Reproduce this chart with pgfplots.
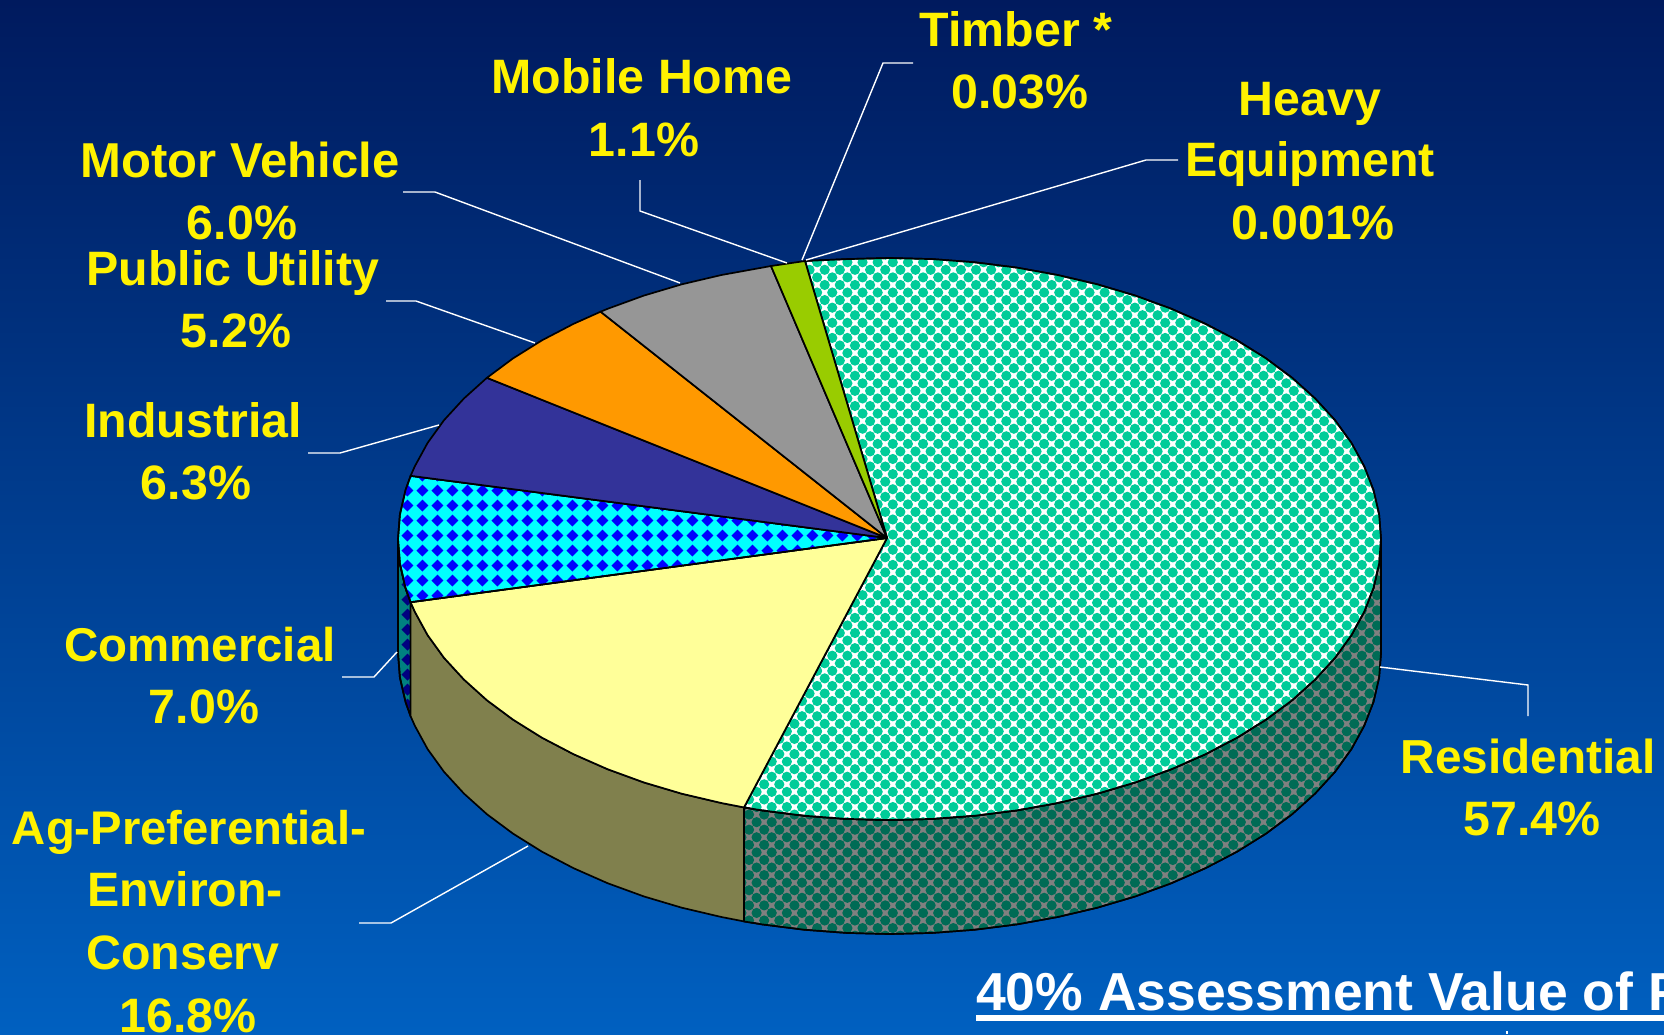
\documentclass[border=0pt]{standalone}
\usepackage{fontspec}
\setmainfont{Liberation Sans}
\usepackage{pgfplots}
\pgfplotsset{compat=1.18}
\usetikzlibrary{patterns,patterns.meta}
\pgfdeclarepatternformonly{diam}{\pgfqpoint{0pt}{0pt}}{\pgfqpoint{15.4pt}{15.4pt}}{\pgfqpoint{15.4pt}{15.4pt}}{%
  \pgfpathmoveto{\pgfqpoint{1.5pt}{7.7pt}}\pgfpathlineto{\pgfqpoint{7.7pt}{13.9pt}}\pgfpathlineto{\pgfqpoint{13.9pt}{7.7pt}}\pgfpathlineto{\pgfqpoint{7.7pt}{1.5pt}}\pgfpathclose
  \pgfusepath{fill}}
\definecolor{bgtop}{HTML}{001A5E}
\definecolor{bgbot}{HTML}{0060C0}
\definecolor{restop}{HTML}{00CC99}
\definecolor{resside}{HTML}{006B55}
\definecolor{agtop}{HTML}{FFFF99}
\definecolor{agside}{HTML}{80804D}
\definecolor{indc}{HTML}{333399}
\definecolor{pubc}{HTML}{FF9900}
\definecolor{motc}{HTML}{969696}
\definecolor{mobc}{HTML}{99CC00}
\definecolor{cyanc}{HTML}{00FFFF}
\definecolor{bluec}{HTML}{0000FF}
\definecolor{tealc}{HTML}{008080}
\definecolor{navyc}{HTML}{000080}
\newcommand{\lab}[4][48.3]{\node[anchor=base,inner sep=0pt,text=yellow,font=\bfseries\fontsize{#1}{56}\selectfont] at (axis cs:#2,#3) {#4};}
\begin{document}
\begin{tikzpicture}
\useasboundingbox (0,0) rectangle (1664pt,1034pt);
\clip (0,0) rectangle (1664pt,1034pt);
\begin{axis}[
  at={(0,0)},anchor=south west,
  scale only axis,width=1664pt,height=1034pt,
  xmin=0,xmax=1664,ymin=0,ymax=1034,y dir=reverse,
  hide axis,clip=false,
  pie/.style={draw=black,line width=1.7pt,line join=round},
  leader/.style={white,line width=1.4pt,line join=miter},
]
% background
\addplot[draw=none,shade,top color=bgtop,bottom color=bgbot] coordinates {(0,0)(1664,0)(1664,1034)(0,1034)} -- cycle;
% side: commercial
\addplot[pie,preaction={fill=tealc},pattern=diam,pattern color=navyc] coordinates {(398,539)(399.9,563.5)(405.5,587.8)(410.6,602.2)(410.6,716.2)(405.5,701.8)(399.9,677.5)(398,653)} -- cycle;
% side: agricultural
\addplot[pie,fill=agside] coordinates {(410.6,602.2)(414.8,611.7)(427.6,635.1)(444,657.8)(463.9,679.5)(486.9,700.2)(513,719.6)(542,737.7)(573.6,754.2)(607.6,769.2)(643.8,782.4)(681.8,793.7)(721.4,803)(744,807.4)
 (744,921.4)(721.4,917)(681.8,907.7)(643.8,896.4)(607.6,883.2)(573.6,868.2)(542,851.7)(513,833.6)(486.9,814.2)(463.9,793.5)(444,771.8)(427.6,749.1)(414.8,725.7)(410.6,716.2)} -- cycle;
% side: residential
\addplot[pie,preaction={fill=gray},pattern={Dots[distance=10.7pt,radius=5.1pt,angle=45]},pattern color=resside] coordinates {(744,807.4)(762.3,810.4)(804.2,815.7)(846.6,818.9)(889.5,820)(932.4,818.9)(974.8,815.7)(1016.7,810.4)(1057.6,803)(1097.2,793.7)(1135.3,782.4)(1171.4,769.2)(1205.4,754.2)(1237,737.7)(1266,719.6)(1292.1,700.2)(1315.1,679.5)(1335,657.8)(1351.4,635.1)(1364.2,611.7)(1373.5,587.8)(1379.1,563.5)(1381,539)
 (1381,653)(1379.1,677.5)(1373.5,701.8)(1364.2,725.7)(1351.4,749.1)(1335,771.8)(1315.1,793.5)(1292.1,814.2)(1266,833.6)(1237,851.7)(1205.4,868.2)(1171.4,883.2)(1135.3,896.4)(1097.2,907.7)(1057.6,917)(1016.7,924.4)(974.8,929.7)(932.4,932.9)(889.5,934)(846.6,932.9)(804.2,929.7)(762.3,924.4)(744,921.4)} -- cycle;
% top: residential
\addplot[pie,preaction={fill=white},pattern={Dots[distance=10.7pt,radius=5.1pt,angle=45]},pattern color=restop] coordinates {(887,538)(805,261)(846.6,259.1)(889.5,258)(932.4,259.1)(974.8,262.3)(1016.7,267.6)(1057.6,275)(1097.2,284.3)(1135.3,295.6)(1171.4,308.8)(1205.4,323.8)(1237,340.3)(1266,358.4)(1292.1,377.8)(1315.1,398.5)(1335,420.2)(1351.4,442.9)(1364.2,466.3)(1373.5,490.2)(1379.1,514.5)(1381,539)(1379.1,563.5)(1373.5,587.8)(1364.2,611.7)(1351.4,635.1)(1335,657.8)(1315.1,679.5)(1292.1,700.2)(1266,719.6)(1237,737.7)(1205.4,754.2)(1171.4,769.2)(1135.3,782.4)(1097.2,793.7)(1057.6,803)(1016.7,810.4)(974.8,815.7)(932.4,818.9)(889.5,820)(846.6,818.9)(804.2,815.7)(762.3,810.4)(744,807.4)} -- cycle;
% top: agricultural
\addplot[pie,fill=agtop] coordinates {(887,538)(744,807.4)(721.4,803)(681.8,793.7)(643.8,782.4)(607.6,769.2)(573.6,754.2)(542,737.7)(513,719.6)(486.9,700.2)(463.9,679.5)(444,657.8)(427.6,635.1)(414.8,611.7)(410.6,602.2)} -- cycle;
% top: commercial
\addplot[pie,preaction={fill=cyanc},pattern=diam,pattern color=bluec] coordinates {(887,538)(410.6,602.2)(405.5,587.8)(399.9,563.5)(398,539)(399.9,514.5)(405.5,490.2)(410.6,475.8)} -- cycle;
% top: industrial
\addplot[pie,fill=indc] coordinates {(887,538)(410.6,475.8)(414.8,466.3)(427.6,442.9)(444,420.2)(463.9,398.5)(486.9,377.8)} -- cycle;
% top: public utility
\addplot[pie,fill=pubc] coordinates {(887,538)(486.9,377.8)(513,358.4)(542,340.3)(573.6,323.8)(600.6,311.7)} -- cycle;
% top: motor vehicle
\addplot[pie,fill=motc] coordinates {(887,538)(600.6,311.7)(607.6,308.8)(643.8,295.6)(681.8,284.3)(721.4,275)(762.3,267.6)(771,266)} -- cycle;
% top: mobile home
\addplot[pie,fill=mobc] coordinates {(887,538)(771,266)(805,261)} -- cycle;
% leaders
\addplot[leader] coordinates {(802,260)(883,63)(913,63)};
\addplot[leader] coordinates {(806,260)(1146,160)(1178,160)};
\addplot[leader] coordinates {(787,263)(640,211)(640,180)};
\addplot[leader] coordinates {(680,283)(435,192)(403,192)};
\addplot[leader] coordinates {(535,343)(416,301)(386,301)};
\addplot[leader] coordinates {(439,425)(340,453)(308,453)};
\addplot[leader] coordinates {(397,652)(374,677)(342,677)};
\addplot[leader] coordinates {(528,846)(391,923)(359,923)};
\addplot[leader] coordinates {(1380,667)(1528,685)(1528,716)};
% underline and the cut-off mark below it
\addplot[white,line width=6pt] coordinates {(976,1018)(1664,1018)};
\addplot[white,line width=2pt] coordinates {(1507,1031)(1507,1034)};
% labels
\lab{1016}{46}{Timber *}
\lab{1020}{108}{0.03\%}
\lab{642}{93}{Mobile Home}
\lab{644}{156}{1.1\%}
\lab{1310}{115}{Heavy}
\lab{1310}{176}{Equipment}
\lab{1313}{239}{0.001\%}
\lab[49]{240}{177}{Motor Vehicle}
\lab{242}{239}{6.0\%}
\lab{233}{285}{Public Utility}
\lab{236}{347}{5.2\%}
\lab{193}{437}{Industrial}
\lab{196}{499}{6.3\%}
\lab[47.4]{200}{661}{Commercial}
\lab{204}{723}{7.0\%}
\lab[47.2]{189}{844}{Ag-Preferential-}
\lab{185}{906}{Environ-}
\lab{183}{969}{Conserv}
\lab{188}{1032}{16.8\%}
\lab[47.7]{1528}{773}{Residential}
\lab{1532}{835}{57.4\%}
\node[anchor=base west,inner sep=0pt,text=white,font=\bfseries\fontsize{53.5}{60}\selectfont] at (axis cs:976,1010) {40\% Assessment Value of Property};
\end{axis}
\end{tikzpicture}
\end{document}
